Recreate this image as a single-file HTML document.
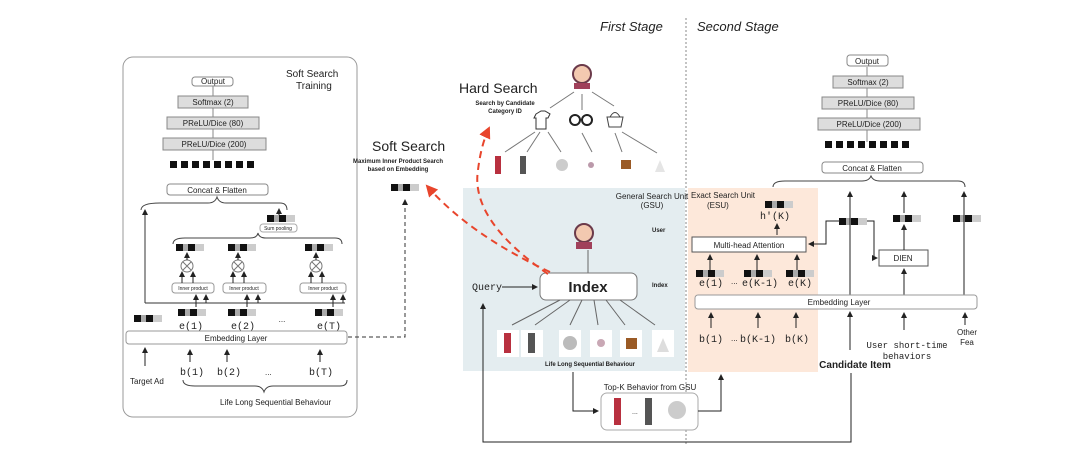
<!DOCTYPE html>
<html><head><meta charset="utf-8"><style>
html,body{margin:0;padding:0;background:#fff}
svg{display:block}
text{font-family:"Liberation Sans",sans-serif;fill:#222}
.m{font-family:"Liberation Mono",monospace}
</style></head><body>
<svg width="1080" height="458" viewBox="0 0 1080 458" xmlns="http://www.w3.org/2000/svg">
<defs>
<g id="v"><rect x="0" y="0" width="7" height="7" fill="#111"/><rect x="7" y="0" width="5" height="7" fill="#aaa"/><rect x="12" y="0" width="7" height="7" fill="#111"/><rect x="19" y="0" width="9" height="7" fill="#ccc"/></g>
<g id="sq"><rect width="7" height="7" fill="#111"/></g>
<marker id="a" markerWidth="6" markerHeight="6" refX="5" refY="3" orient="auto"><path d="M0,0 L6,3 L0,6z" fill="#222"/></marker>
<marker id="r" markerWidth="6" markerHeight="6" refX="5" refY="3" orient="auto"><path d="M0,0 L6,3 L0,6z" fill="#e8452c"/></marker>
<g id="item"><rect x="0" y="0" width="22" height="27" fill="#fff"/></g>
</defs>

<text x="600" y="31" font-size="13" font-style="italic">First Stage</text>
<text x="697" y="31" font-size="13" font-style="italic">Second Stage</text>
<line x1="686" y1="18" x2="686" y2="445" stroke="#888" stroke-dasharray="2,2"/>

<rect x="123" y="57" width="234" height="360" rx="10" fill="#fff" stroke="#999"/>
<text x="286" y="77" font-size="10">Soft Search</text>
<text x="296" y="89" font-size="10">Training</text>
<g stroke="#888" fill="#ddd" font-size="8">
<line x1="213" y1="85" x2="213" y2="160" stroke="#888"/>
<rect x="192" y="77" width="41" height="9" rx="3" fill="#fff"/>
<rect x="178" y="96" width="70" height="12"/>
<rect x="167" y="117" width="92" height="12"/>
<rect x="163" y="138" width="103" height="12"/>
<rect x="167" y="184" width="101" height="11" rx="3" fill="#fff"/>
</g>
<text x="213" y="84" font-size="8" text-anchor="middle">Output</text>
<text x="213" y="105" font-size="8" text-anchor="middle">Softmax (2)</text>
<text x="213" y="126" font-size="8" text-anchor="middle">PReLU/Dice (80)</text>
<text x="214" y="147" font-size="8" text-anchor="middle">PReLU/Dice (200)</text>
<text x="217" y="193" font-size="8" text-anchor="middle">Concat &amp; Flatten</text>
<g><use href="#sq" x="170" y="161"/><use href="#sq" x="181" y="161"/><use href="#sq" x="192" y="161"/><use href="#sq" x="203" y="161"/><use href="#sq" x="214" y="161"/><use href="#sq" x="225" y="161"/><use href="#sq" x="236" y="161"/><use href="#sq" x="247" y="161"/></g>
<path d="M141,210 Q141,203 160,203 L208,203 Q215,203 217,197 Q219,203 226,203 L280,203 Q287,203 287,210" fill="none" stroke="#444"/>
<use href="#v" x="267" y="215"/>
<rect x="260" y="224" width="37" height="8" rx="3" fill="#fff" stroke="#aaa"/>
<text x="278" y="230" font-size="5" text-anchor="middle">Sum pooling</text>
<line x1="279" y1="215" x2="279" y2="209" stroke="#222" marker-end="url(#a)"/>
<path d="M173,244 Q173,238 185,238 L250,238 Q257,238 258,233 Q259,238 266,238 L335,238 Q342,238 342,244" fill="none" stroke="#444"/>
<g stroke="#333" fill="none">
<line x1="145" y1="303" x2="345" y2="303"/>
<line x1="145" y1="303" x2="145" y2="210" marker-end="url(#a)"/>
</g>
<g>
<use href="#v" x="176" y="244"/><use href="#v" x="228" y="244"/><use href="#v" x="305" y="244"/>
<g fill="#fff" stroke="#777"><circle cx="187" cy="266" r="6"/><circle cx="238" cy="266" r="6"/><circle cx="316" cy="266" r="6"/></g>
<g stroke="#777"><path d="M183,262 l8,8 M191,262 l-8,8 M234,262 l8,8 M242,262 l-8,8 M312,262 l8,8 M320,262 l-8,8"/></g>
<g fill="#fff" stroke="#999"><rect x="172" y="283" width="42" height="10" rx="3"/><rect x="223" y="283" width="43" height="10" rx="3"/><rect x="300" y="283" width="46" height="10" rx="3"/></g>
<text x="193" y="290" font-size="5" text-anchor="middle">Inner product</text>
<text x="244" y="290" font-size="5" text-anchor="middle">Inner product</text>
<text x="323" y="290" font-size="5" text-anchor="middle">Inner product</text>
<g stroke="#222" marker-end="url(#a)">
<line x1="187" y1="260" x2="187" y2="253"/><line x1="238" y1="260" x2="238" y2="253"/><line x1="316" y1="260" x2="316" y2="253"/>
<line x1="182" y1="283" x2="182" y2="272"/><line x1="193" y1="283" x2="193" y2="272"/>
<line x1="233" y1="283" x2="233" y2="272"/><line x1="244" y1="283" x2="244" y2="272"/>
<line x1="311" y1="283" x2="311" y2="272"/><line x1="322" y1="283" x2="322" y2="272"/>
<line x1="196" y1="307" x2="196" y2="295"/><line x1="206" y1="303" x2="206" y2="295"/>
<line x1="247" y1="307" x2="247" y2="295"/><line x1="258" y1="303" x2="258" y2="295"/>
<line x1="333" y1="307" x2="333" y2="295"/><line x1="343" y1="303" x2="343" y2="295"/>
</g>
<use href="#v" x="178" y="309"/><use href="#v" x="228" y="309"/><use href="#v" x="315" y="309"/>
<use href="#v" x="134" y="315"/>
<text x="191" y="329" font-size="10" class="m" text-anchor="middle">e(1)</text>
<text x="243" y="329" font-size="10" class="m" text-anchor="middle">e(2)</text>
<text x="282" y="322" font-size="8" text-anchor="middle">...</text>
<text x="329" y="329" font-size="10" class="m" text-anchor="middle">e(T)</text>
</g>
<rect x="126" y="331" width="221" height="13" rx="3" fill="#fff" stroke="#999"/>
<text x="236" y="341" font-size="8" text-anchor="middle">Embedding Layer</text>
<g stroke="#222" marker-end="url(#a)">
<line x1="145" y1="366" x2="145" y2="348"/><line x1="190" y1="362" x2="190" y2="350"/><line x1="227" y1="362" x2="227" y2="350"/><line x1="320" y1="362" x2="320" y2="350"/>
</g>
<text x="180" y="375" font-size="10" class="m">b(1)</text>
<text x="217" y="375" font-size="10" class="m">b(2)</text>
<text x="265" y="375" font-size="8">...</text>
<text x="309" y="375" font-size="10" class="m">b(T)</text>
<text x="130" y="384" font-size="8">Target Ad</text>
<path d="M183,380 Q183,386 195,386 L255,386 Q262,386 264,392 Q266,386 273,386 L340,386 Q347,386 347,380" fill="none" stroke="#444"/>
<text x="220" y="405" font-size="8">Life Long Sequential Behaviour</text>

<text x="372" y="151" font-size="14">Soft Search</text>
<text x="398" y="163" font-size="6" font-weight="bold" text-anchor="middle">Maximum Inner Product Search</text>
<text x="398" y="171" font-size="6" font-weight="bold" text-anchor="middle">based on Embedding</text>
<use href="#v" x="391" y="184"/>
<path d="M348,337 L405,337 L405,200" fill="none" stroke="#333" stroke-dasharray="4,3" marker-end="url(#a)"/>

<rect x="463" y="188" width="222" height="183" fill="#e4edf0"/>
<rect x="688" y="188" width="130" height="184" fill="#fde8da"/>
<text x="652" y="199" font-size="8" text-anchor="middle">General Search Unit</text>
<text x="652" y="208" font-size="8" text-anchor="middle">(GSU)</text>
<text x="652" y="232" font-size="6" font-weight="bold">User</text>
<text x="652" y="287" font-size="6" font-weight="bold">Index</text>
<g>
<circle cx="584" cy="233" r="9" fill="#f3c9b0" stroke="#6b3a4a" stroke-width="2"/>
<rect x="576" y="242" width="16" height="7" fill="#a0405a"/>
<circle cx="582" cy="74" r="9" fill="#f3c9b0" stroke="#6b3a4a" stroke-width="2"/>
<rect x="574" y="83" width="16" height="6" fill="#a0405a"/>
</g>
<line x1="588" y1="250" x2="588" y2="273" stroke="#666"/>
<rect x="540" y="273" width="97" height="27" rx="6" fill="#fff" stroke="#777"/>
<text x="588" y="292" font-size="15" font-weight="bold" text-anchor="middle">Index</text>
<text x="472" y="290" font-size="10" class="m">Query</text>
<line x1="502" y1="287" x2="537" y2="287" stroke="#222" marker-end="url(#a)"/>
<g stroke="#666">
<line x1="560" y1="300" x2="512" y2="325"/><line x1="570" y1="300" x2="535" y2="325"/><line x1="582" y1="300" x2="570" y2="325"/><line x1="594" y1="300" x2="598" y2="325"/><line x1="606" y1="300" x2="625" y2="325"/><line x1="620" y1="300" x2="655" y2="325"/>
</g>
<g>
<use href="#item" x="497" y="330"/><use href="#item" x="521" y="330"/><use href="#item" x="559" y="330"/><use href="#item" x="590" y="330"/><use href="#item" x="620" y="330"/><use href="#item" x="652" y="330"/>
<rect x="504" y="333" width="7" height="20" fill="#b8303f"/>
<rect x="528" y="333" width="7" height="20" fill="#555"/>
<circle cx="570" cy="343" r="7" fill="#bbb"/>
<circle cx="601" cy="343" r="4" fill="#c9a8b5"/>
<rect x="626" y="338" width="11" height="11" fill="#9a5a25"/>
<path d="M657,352 L663,338 L669,352z" fill="#ddd"/>
</g>
<text x="545" y="366" font-size="6" font-weight="bold">Life Long Sequential Behaviour</text>

<text x="459" y="93" font-size="14">Hard Search</text>
<text x="505" y="105" font-size="6" font-weight="bold" text-anchor="middle">Search by Candidate</text>
<text x="505" y="113" font-size="6" font-weight="bold" text-anchor="middle">Category ID</text>
<g stroke="#777">
<line x1="574" y1="92" x2="550" y2="108"/><line x1="582" y1="94" x2="582" y2="110"/><line x1="592" y1="92" x2="614" y2="106"/>
<line x1="535" y1="132" x2="505" y2="152"/><line x1="540" y1="132" x2="527" y2="152"/><line x1="548" y1="132" x2="561" y2="152"/>
<line x1="582" y1="133" x2="592" y2="152"/><line x1="615" y1="133" x2="622" y2="152"/><line x1="622" y1="132" x2="657" y2="153"/>
</g>
<path d="M536,114 l5,-3 h4 l5,3 l-2,4 h-2 v11 h-10 v-11 h-2z" fill="#fff" stroke="#333"/>
<circle cx="575" cy="120" r="5" fill="#fff" stroke="#222" stroke-width="2"/><circle cx="587" cy="120" r="5" fill="#fff" stroke="#222" stroke-width="2"/>
<path d="M607,117 h16 l-2,10 h-12z" fill="#fff" stroke="#444"/><path d="M610,117 q5,-9 10,0" fill="none" stroke="#444"/>
<rect x="495" y="156" width="6" height="18" fill="#b8303f"/>
<rect x="520" y="156" width="6" height="18" fill="#555"/>
<circle cx="562" cy="165" r="6" fill="#ccc"/>
<circle cx="591" cy="165" r="3" fill="#b9a"/>
<rect x="621" y="160" width="10" height="9" fill="#9a5a25"/>
<path d="M655,172 L660,160 L665,172z" fill="#e5e5e5"/>
<path d="M550,272 Q470,235 427,186" fill="none" stroke="#e8452c" stroke-width="2" stroke-dasharray="7,5" marker-end="url(#r)"/>
<path d="M548,274 Q470,220 478,170 Q481,145 489,128" fill="none" stroke="#e8452c" stroke-width="2" stroke-dasharray="7,5" marker-end="url(#r)"/>

<text x="650" y="390" font-size="8" text-anchor="middle">Top-K Behavior from GSU</text>
<rect x="601" y="393" width="97" height="37" rx="6" fill="#fff" stroke="#aaa"/>
<rect x="614" y="398" width="7" height="27" fill="#b8303f"/>
<text x="632" y="414" font-size="7">...</text>
<rect x="645" y="398" width="7" height="27" fill="#555"/>
<circle cx="677" cy="410" r="9" fill="#ccc"/>
<path d="M573,372 L573,411 L598,411" fill="none" stroke="#222" marker-end="url(#a)"/>
<path d="M698,411 L721,411 L721,375" fill="none" stroke="#222" marker-end="url(#a)"/>
<path d="M851,373 L851,442 L483,442 L483,304" fill="none" stroke="#222" marker-end="url(#a)"/>

<g stroke="#888" fill="#ddd">
<line x1="867" y1="67" x2="867" y2="142"/>
<rect x="847" y="55" width="41" height="11" rx="3" fill="#fff"/>
<rect x="833" y="76" width="70" height="12"/>
<rect x="822" y="97" width="92" height="12"/>
<rect x="818" y="118" width="102" height="12"/>
<rect x="822" y="162" width="101" height="11" rx="3" fill="#fff"/>
</g>
<text x="867" y="64" font-size="8" text-anchor="middle">Output</text>
<text x="868" y="85" font-size="8" text-anchor="middle">Softmax (2)</text>
<text x="868" y="106" font-size="8" text-anchor="middle">PReLU/Dice (80)</text>
<text x="869" y="127" font-size="8" text-anchor="middle">PReLU/Dice (200)</text>
<text x="872" y="171" font-size="8" text-anchor="middle">Concat &amp; Flatten</text>
<g><use href="#sq" x="825" y="141"/><use href="#sq" x="836" y="141"/><use href="#sq" x="847" y="141"/><use href="#sq" x="858" y="141"/><use href="#sq" x="869" y="141"/><use href="#sq" x="880" y="141"/><use href="#sq" x="891" y="141"/><use href="#sq" x="902" y="141"/></g>
<path d="M773,187 Q773,181 785,181 L862,181 Q869,181 871,176 Q873,181 880,181 L958,181 Q965,181 965,187" fill="none" stroke="#444"/>
<text x="691" y="198" font-size="8">Exact Search Unit</text>
<text x="707" y="208" font-size="8">(ESU)</text>
<use href="#v" x="765" y="201"/>
<text x="775" y="219" font-size="10" class="m" text-anchor="middle">h'(K)</text>
<line x1="777" y1="235" x2="777" y2="224" stroke="#222" marker-end="url(#a)"/>
<rect x="692" y="237" width="114" height="15" fill="#fff" stroke="#555"/>
<text x="749" y="248" font-size="8" text-anchor="middle">Multi-head Attention</text>
<rect x="879" y="250" width="49" height="16" fill="#fff" stroke="#555"/>
<text x="903" y="261" font-size="8" text-anchor="middle">DIEN</text>
<use href="#v" x="839" y="218"/><use href="#v" x="893" y="215"/><use href="#v" x="953" y="215"/>
<g stroke="#222" fill="none" marker-end="url(#a)">
<path d="M840,221 L826,221 L826,244 L809,244"/>
<path d="M867,221 L874,221 L874,258 L877,258"/>
<line x1="850" y1="295" x2="850" y2="192"/>
<line x1="904" y1="250" x2="904" y2="225"/>
<line x1="904" y1="213" x2="904" y2="192"/>
<line x1="904" y1="295" x2="904" y2="269"/>
<line x1="964" y1="295" x2="964" y2="192"/>
<line x1="710" y1="270" x2="710" y2="255"/><line x1="757" y1="270" x2="757" y2="255"/><line x1="797" y1="270" x2="797" y2="255"/>
<line x1="711" y1="328" x2="711" y2="313"/><line x1="758" y1="328" x2="758" y2="313"/><line x1="796" y1="328" x2="796" y2="313"/>
<line x1="850" y1="350" x2="850" y2="312"/><line x1="904" y1="330" x2="904" y2="313"/><line x1="965" y1="325" x2="965" y2="313"/>
</g>
<use href="#v" x="696" y="270"/><use href="#v" x="744" y="270"/><use href="#v" x="786" y="270"/>
<text x="711" y="286" font-size="10" class="m" text-anchor="middle">e(1)</text>
<text x="731" y="284" font-size="8">...</text>
<text x="760" y="286" font-size="10" class="m" text-anchor="middle">e(K-1)</text>
<text x="800" y="286" font-size="10" class="m" text-anchor="middle">e(K)</text>
<rect x="695" y="295" width="282" height="14" rx="3" fill="#fff" stroke="#999"/>
<text x="839" y="305" font-size="8" text-anchor="middle">Embedding Layer</text>
<text x="711" y="342" font-size="10" class="m" text-anchor="middle">b(1)</text>
<text x="731" y="341" font-size="8">...</text>
<text x="758" y="342" font-size="10" class="m" text-anchor="middle">b(K-1)</text>
<text x="797" y="342" font-size="10" class="m" text-anchor="middle">b(K)</text>
<text x="907" y="348" font-size="9" class="m" text-anchor="middle">User short-time</text>
<text x="907" y="359" font-size="9" class="m" text-anchor="middle">behaviors</text>
<text x="967" y="335" font-size="8" text-anchor="middle">Other</text>
<text x="967" y="345" font-size="8" text-anchor="middle">Fea</text>
<text x="855" y="368" font-size="10" font-weight="bold" text-anchor="middle">Candidate Item</text>
</svg>
</body></html>
